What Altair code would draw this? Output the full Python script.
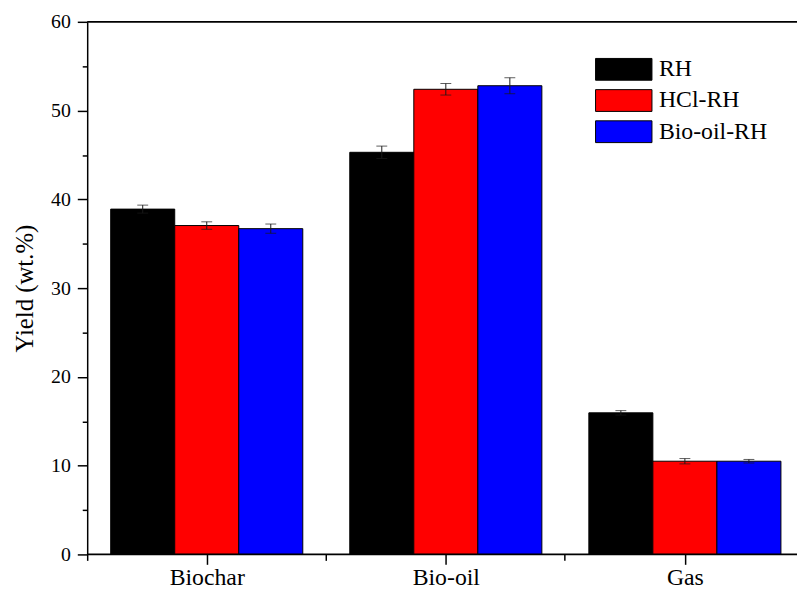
import altair as alt
import pandas as pd

categories = ["Biochar", "Bio-oil", "Gas"]
series = ["RH", "HCl-RH", "Bio-oil-RH"]
rh_vals = [38.9, 45.3, 15.95]
rh_err = [0.45, 0.7, 0.25]
hcl_vals = [37.05, 52.4, 10.5]
hcl_err = [0.42, 0.65, 0.3]
bio_vals = [36.7, 52.8, 10.5]
bio_err = [0.52, 0.9, 0.2]
colors = ["#000000", "#ff0000", "#0000ff"]
y_ticks = list(range(0, 61, 5))
frame_vals = [0, 60]

rows = []
for s, vals, errs in zip(series, [rh_vals, hcl_vals, bio_vals], [rh_err, hcl_err, bio_err]):
    for c, v, e in zip(categories, vals, errs):
        rows.append(dict(cat=c, series=s, y=v, lo=v - e, hi=v + e))
df = pd.DataFrame(rows)

FONT = "Liberation Serif"

x_scale = alt.Scale(domain=categories, paddingInner=0.031, paddingOuter=0, align=0)
off_scale = alt.Scale(domain=series, paddingInner=0, paddingOuter=0.309, align=0.594)
color_scale = alt.Scale(domain=series, range=colors)
y_scale = alt.Scale(domain=[0, 60], nice=False)

y_axis = alt.Axis(
    values=y_ticks,
    labelExpr="datum.value % 10 === 0 ? datum.label : ''",
    tickSize={"condition": {"test": "datum.value % 10 === 0", "value": 10}, "value": 5},
    title="Yield (wt.%)",
    titleFontSize=25,
    titleFontWeight="normal",
    titlePadding=13,
    labelFontSize=20,
    labelPadding=7,
    grid=False,
    domainWidth=1.5,
    tickWidth=1.5,
)

x_major = alt.Axis(
    title=None, labelFontSize=24, labelPadding=1, tickSize=10, labelAngle=0,
    grid=False, domain=False, tickWidth=1.5, orient="bottom", tickOffset=3.75,
)
x_minor = alt.Axis(
    title=None, labels=False, domain=False, tickSize=6, bandPosition=0,
    tickWidth=1.5, grid=False, orient="bottom",
)

base = alt.Chart(df)

bars = base.mark_bar(stroke="black", strokeWidth=1).encode(
    x=alt.X("cat:N", scale=x_scale, sort=categories, axis=x_major),
    xOffset=alt.XOffset("series:N", scale=off_scale, sort=series),
    y=alt.Y("y:Q", scale=y_scale, axis=y_axis),
    color=alt.Color(
        "series:N", scale=color_scale, sort=series,
        legend=alt.Legend(
            title=None, orient="none", legendX=530, legendY=36, padding=0,
            symbolType="M-2.59,-1H2.59V1H-2.59Z", symbolSize=484,
            symbolStrokeColor="black", symbolStrokeWidth=1, symbolOpacity=1,
            labelFontSize=24, labelFont=FONT, labelOffset=23.5, rowPadding=5.5,
            labelColor="black",
        ),
    ),
)

err = base.mark_rule(color="#1a1a1a", strokeWidth=1).encode(
    x=alt.X("cat:N", scale=x_scale, sort=categories, axis=x_minor),
    xOffset=alt.XOffset("series:N", scale=off_scale, sort=series),
    y=alt.Y("lo:Q", scale=y_scale, axis=y_axis),
    y2="hi:Q",
)

cap_hi = base.mark_tick(color="#1a1a1a", thickness=1, size=11).encode(
    x=alt.X("cat:N", scale=x_scale, sort=categories, axis=None),
    xOffset=alt.XOffset("series:N", scale=off_scale, sort=series),
    y=alt.Y("hi:Q", scale=y_scale, axis=y_axis),
)

cap_lo = base.mark_tick(color="#1a1a1a", thickness=1, size=11).encode(
    x=alt.X("cat:N", scale=x_scale, sort=categories, axis=None),
    xOffset=alt.XOffset("series:N", scale=off_scale, sort=series),
    y=alt.Y("lo:Q", scale=y_scale, axis=y_axis),
)

frame = alt.Chart(pd.DataFrame({"v": frame_vals})).mark_rule(
    color="black", strokeWidth=1.8
).encode(y=alt.Y("v:Q", scale=y_scale, axis=y_axis))

chart = (
    alt.layer(bars, err, cap_hi, cap_lo, frame)
    .resolve_axis(x="independent")
    .properties(
        width=717, height=538,
        autosize=alt.AutoSizeParams(type="none"),
        padding={"left": 80, "top": 11, "right": 0, "bottom": 35},
    )
    .configure_view(stroke=None)
    .configure_axis(
        labelFont=FONT, titleFont=FONT, labelColor="black", titleColor="black",
        domainColor="black", tickColor="black",
    )
    .configure_legend(labelFont=FONT)
)

chart.save("out.html", embed_options={"renderer": "svg", "actions": False})
